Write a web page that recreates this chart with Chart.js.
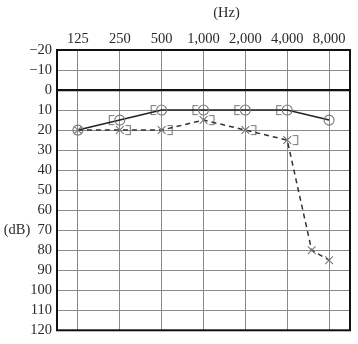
<!DOCTYPE html>
<html><head><meta charset="utf-8">
<script src="https://cdn.jsdelivr.net/npm/chart.js@4/dist/chart.umd.min.js"></script>
<style>html,body{margin:0;padding:0;background:#fff}#wrap{width:358px;height:344px}</style>
</head><body><div id="wrap"><canvas id="c" width="358" height="344"></canvas></div>
<script>
// ---- data ----
const tickFreqs = [125, 250, 500, 1000, 2000, 4000, 8000];
const tickLabels = ['125', '250', '500', '1,000', '2,000', '4,000', '8,000'];
const dbTicks = [-20, -10, 0, 10, 20, 30, 40, 50, 60, 70, 80, 90, 100, 110, 120];
const rightAirFreqs = [125, 250, 500, 1000, 2000, 4000, 8000];
const rightAirDb = [20, 15, 10, 10, 10, 10, 15];
const leftAirFreqs = [125, 250, 500, 1000, 2000, 4000, 6000, 8000];
const leftAirDb = [20, 20, 20, 15, 20, 25, 80, 85];
const rightBoneFreqs = [250, 500, 1000, 2000, 4000];
const rightBoneDb = [15, 10, 10, 10, 10];
const leftBoneFreqs = [250, 500, 1000, 2000, 4000];
const leftBoneDb = [20, 20, 15, 20, 25];

const oct = f => Math.log2(f / 125);
const pts = (fs, ds) => fs.map((f, i) => ({x: oct(f), y: ds[i]}));

function bracket(side) {
  const c = document.createElement('canvas');
  c.width = 28; c.height = 12;
  const g = c.getContext('2d');
  g.strokeStyle = '#777'; g.lineWidth = 1.1;
  g.beginPath();
  if (side === 'L') { g.moveTo(8.5, 1.5); g.lineTo(3.5, 1.5); g.lineTo(3.5, 10.5); g.lineTo(8.5, 10.5); }
  else { g.moveTo(19.5, 1.5); g.lineTo(24.5, 1.5); g.lineTo(24.5, 10.5); g.lineTo(19.5, 10.5); }
  g.stroke();
  return c;
}

const FONT = {family: '"Liberation Serif", "DejaVu Serif", serif', size: 14.5};
const TXT = '#2a2a2a';

const framePlugin = {
  id: 'frame',
  afterDatasetsDraw(chart) {
    const {ctx, chartArea: a} = chart;
    ctx.save();
    ctx.strokeStyle = '#111'; ctx.lineWidth = 2;
    ctx.strokeRect(a.left, a.top, a.right - a.left, a.bottom - a.top);
    ctx.restore();
  },
  afterDraw(chart) {
    const {ctx, scales} = chart;
    ctx.save();
    ctx.fillStyle = TXT;
    ctx.font = FONT.size + 'px ' + FONT.family;
    ctx.textAlign = 'center'; ctx.textBaseline = 'middle';
    ctx.fillText('(Hz)', scales.x.getPixelForValue(3.55), 13);
    ctx.restore();
  }
};

new Chart(document.getElementById('c'), {
  type: 'scatter',
  data: {
    datasets: [
      {data: pts(leftAirFreqs, leftAirDb), showLine: true, borderColor: '#333', borderWidth: 1.5, borderDash: [5, 4],
       pointStyle: 'cross', rotation: 45, pointRadius: 5.5, pointBorderColor: '#777', pointBorderWidth: 1.1, pointBackgroundColor: 'transparent'},
      {data: pts(rightAirFreqs, rightAirDb), showLine: true, borderColor: '#222', borderWidth: 1.6,
       pointStyle: 'circle', pointRadius: 5, pointBorderColor: '#777', pointBorderWidth: 1.1, pointBackgroundColor: 'transparent'},
      {data: pts(rightBoneFreqs, rightBoneDb), showLine: false, pointStyle: bracket('L')},
      {data: pts(leftBoneFreqs, leftBoneDb), showLine: false, pointStyle: bracket('R')}
    ]
  },
  options: {
    responsive: false, animation: false,
    layout: {padding: {left: 0, right: 8, top: 0, bottom: 11}},
    plugins: {legend: {display: false}, tooltip: {enabled: false}},
    scales: {
      x: {
        type: 'linear', position: 'top', min: -0.5, max: 6.5,
        afterBuildTicks: s => { s.ticks = tickFreqs.map(f => ({value: oct(f)})); },
        afterFit: s => { s.height = 50; },
        ticks: {font: FONT, color: TXT, padding: 2, maxRotation: 0, autoSkip: false,
                callback: (v) => tickLabels[Math.round(v)]},
        grid: {color: '#8a8a8a', lineWidth: 1, drawTicks: false},
        border: {display: false}
      },
      y: {
        min: -20, max: 120, reverse: true,
        afterBuildTicks: s => { s.ticks = dbTicks.map(v => ({value: v})); },
        afterFit: s => { s.width = 57; },
        ticks: {font: FONT, color: TXT, padding: 5, autoSkip: false,
                callback: v => (v === 70 ? '(dB)  70' : (v < 0 ? '\u2212' + Math.abs(v) : String(v)))},
        grid: {drawTicks: false,
               color: c => (c.tick && c.tick.value === 0 ? '#111' : '#8a8a8a'),
               lineWidth: c => (c.tick && c.tick.value === 0 ? 2.2 : 1)},
        border: {display: false}
      }
    }
  },
  plugins: [framePlugin]
});
</script>
</body></html>
